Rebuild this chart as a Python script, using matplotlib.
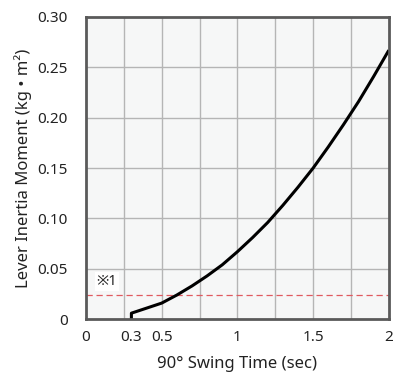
import numpy as np
import matplotlib
matplotlib.use("Agg")
import matplotlib.pyplot as plt

plt.rcParams['font.family'] = ['Noto Sans', 'Noto Sans CJK JP', 'DejaVu Sans']

# swing time (sec) vs lever inertia moment (kg·m^2)
swing_time = [0.3, 0.3, 0.4, 0.5, 0.6, 0.7, 0.8, 0.9, 1.0, 1.1, 1.2, 1.3,
              1.4, 1.5, 1.6, 1.7, 1.8, 1.9, 2.0]
inertia = [0.0, 0.006, 0.011, 0.016, 0.024, 0.033, 0.043, 0.054, 0.067,
           0.081, 0.096, 0.113, 0.131, 0.150, 0.171, 0.193, 0.216, 0.241, 0.267]
limit_line = 0.024

x_ticks = [0, 0.3, 0.5, 1, 1.5, 2]
x_tick_labels = ['0', '0.3', '0.5', '1', '1.5', '2']
y_ticks = [0, 0.05, 0.10, 0.15, 0.20, 0.25, 0.30]
y_tick_labels = ['0', '0.05', '0.10', '0.15', '0.20', '0.25', '0.30']
x_grid = [0.25, 0.5, 0.75, 1.0, 1.25, 1.5, 1.75]
y_grid = [0.05, 0.10, 0.15, 0.20, 0.25]

fig = plt.figure(figsize=(3.98, 3.76), dpi=100)
ax = fig.add_axes([0.216, 0.151, 0.761, 0.804])
ax.set_facecolor('#f6f7f7')

ax.set_xlim(0, 2)
ax.set_ylim(0, 0.30)

# grid
for gx in x_grid:
    ax.axvline(gx, color='#b5b5b5', linewidth=1.0, zorder=1)
for gy in y_grid:
    ax.axhline(gy, color='#b5b5b5', linewidth=1.0, zorder=1)

ax.set_xticks(x_ticks)
ax.set_xticklabels(x_tick_labels)
ax.set_yticks(y_ticks)
ax.set_yticklabels(y_tick_labels)
ax.tick_params(which='both', length=0, labelsize=11, colors='#222222')
ax.tick_params(axis='x', pad=8)
ax.tick_params(axis='y', pad=13)

ax.axhline(limit_line, color='#e05a60', linewidth=0.9, linestyle=(0, (5, 3)), zorder=2)
ax.plot(swing_time, inertia, color='black', linewidth=2.2, solid_capstyle='butt', zorder=3)

ax.text(0.07, 0.037, '※1', fontsize=10.5, va='center', ha='left', color='#222222',
        bbox=dict(facecolor='white', edgecolor='none', pad=1.5), zorder=2)

for s in ax.spines.values():
    s.set_color('#5a5a5a')
    s.set_linewidth(2)
    s.set_zorder(4)

ax.set_xlabel('90° Swing Time (sec)', fontsize=12, labelpad=8, color='#222222')
ax.set_ylabel('Lever Inertia Moment (kg • m²)', fontsize=12, labelpad=4, color='#222222')

fig.savefig('out.png', dpi=100)
